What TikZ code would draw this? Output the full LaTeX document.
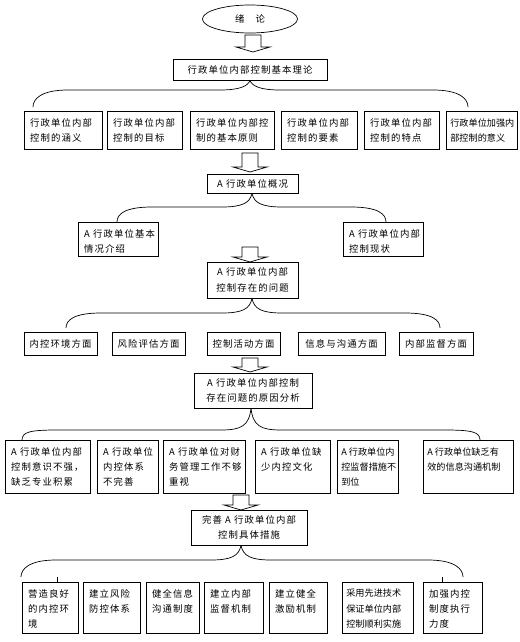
\documentclass[tikz,border=0pt]{standalone}
\usepackage{fontspec}
\newfontfamily\cjk[LetterSpace=12]{Noto Sans CJK SC}
\newfontfamily\cjkt{Noto Sans CJK SC}
\usetikzlibrary{positioning,calc}
\usetikzlibrary{shapes.geometric}
\tikzstyle{box}=[draw,line width=0.6pt,anchor=north west,inner sep=0pt]
\tikzstyle{midbox}=[draw,line width=0.6pt,align=center,inner sep=0pt,font=\cjk\fontsize{8}{13}\selectfont]
\tikzstyle{txt}=[anchor=north west,align=left,inner xsep=5pt,inner ysep=6pt,font=\cjk\fontsize{8}{13}\selectfont]
\tikzstyle{tighttxt}=[txt,inner xsep=3.5pt,font=\cjkt\fontsize{7.8}{13}\selectfont]
\tikzstyle{brace}=[draw,line width=0.6pt]
\tikzstyle{blockarrow}=[draw,line width=0.6pt,fill=white]

\begin{document}
\begin{tikzpicture}[x=0.03cm,y=-0.03cm]

  \def\u{0.03cm};
  \useasboundingbox (0,0) rectangle (519,642);

  \node[draw,ellipse,line width=0.6pt,minimum width=95*\u,minimum height=28*\u,inner sep=0pt,font=\cjk\fontsize{8}{13}\selectfont] (title) at (250,19) {绪\hspace{1.2em}论};

  % boxes with centred text
  \foreach \xa/\ya/\xb/\yb/\name/\txt in {173/59/327/80/B1/{行政单位内部控制基本理论},
      207/174/298/193/B2/{A 行政单位概况}, 207/262/298/298/B3/{A 行政单位内部\\控制存在的问题},
      194/373/312/408/B4/{A 行政单位内部控制\\存在问题的原因分析}, 191/510/307/545/B5/{完善 A 行政单位内部\\控制具体措施}}
          \node[midbox,minimum width={(\xb-\xa)*\u},minimum height={(\yb-\ya)*\u}] (\name) at ({(\xa+\xb)/2},{(\ya+\yb)/2}) {\txt};

  \foreach \xa/\xb/\name/\txt in {24/97/R3a/内控环境方面, 112/185/R3b/风险评估方面, 207/280/R3c/控制活动方面,
      298/385/R3d/信息与沟通方面, 399/473/R3e/内部监督方面}
          \node[midbox,minimum width={(\xb-\xa)*\u},minimum height=23*\u] (\name) at ({(\xa+\xb)/2},343.5) {\txt};

  % boxes with text at the top
  \foreach \xa/\xb/\name/\st/\txt in {24/102/R1a/txt/{行政单位内部\\控制的涵义}, 107/182/R1b/txt/{行政单位内部\\控制的目标},
      190/274/R1c/txt/{行政单位内部控\\制的基本原则}, 281/357/R1d/txt/{行政单位内部\\控制的要素},
      364/439/R1e/txt/{行政单位内部\\控制的特点}, 446/517/R1f/tighttxt/{行政单位加强内\\部控制的意义}}
  {
          \node[box,minimum width={(\xb-\xa)*\u},minimum height=38*\u] (\name) at (\xa,111) {};
          \node[\st] at (\name.north west) {\txt};
  }

  \foreach \xa/\xb/\name/\st/\txt in {78/158/R2a/txt/{A 行政单位基本\\情况介绍}, 343/423/R2b/txt/{A 行政单位内部\\控制现状}}
  {
          \node[box,minimum width={(\xb-\xa)*\u},minimum height=34*\u] (\name) at (\xa,222) {};
          \node[\st] at (\name.north west) {\txt};
  }

  \foreach \xa/\xb/\name/\st/\txt in {5/90/R4a/txt/{A 行政单位内部\\控制意识不强，\\缺乏专业积累}, 97/158/R4b/txt/{A 行政单位\\内控体系\\不完善},
      163/245/R4c/txt/{A 行政单位对财\\务管理工作不够\\重视}, 255/330/R4d/txt/{A 行政单位缺\\少内控文化},
      337/398/R4e/tighttxt/{A 行政单位内\\控监督措施不\\到位}, 423/513/R4f/tighttxt/{A 行政单位缺乏有\\效的信息沟通机制}}
  {
          \node[box,minimum width={(\xb-\xa)*\u},minimum height=53*\u] (\name) at (\xa,440) {};
          \node[\st] at (\name.north west) {\txt};
  }

  \foreach \xa/\xb/\name/\st/\txt in {22/78/R5a/txt/{营造良好\\的内控环\\境}, 83/140/R5b/txt/{建立风险\\防控体系}, 146/199/R5c/txt/{健全信息\\沟通制度},
      204/263/R5d/txt/{建立内部\\监督机制}, 269/327/R5e/txt/{建立健全\\激励机制}, 342/413/R5f/tighttxt/{采用先进技术\\保证单位内部\\控制顺利实施},
      423/482/R5g/txt/{加强内控\\制度执行\\力度}}
  {
          \node[box,minimum width={(\xb-\xa)*\u},minimum height=51*\u] (\name) at (\xa,582) {};
          \node[\st] at (\name.north west) {\txt};
  }

  % braces
  \foreach \parent/\ax/\yh/\xl/\xr/\ye in {B1/250/90/33/468/107, B2/252/207/117/386/222, B3/252/313/66/440/328,
      B4/251/430/22/480/440, B5/241/560/21/463/577}
  {
          \coordinate (\parent l) at (\xl,\ye);
          \coordinate (\parent r) at (\xr,\ye);
          \draw[brace] (\parent.south -| \ax,0) .. controls (\ax-2,\yh-4) and (\ax-10,\yh) .. (\ax-30,\yh) -- (\xl+35,\yh)
                .. controls (\xl+8,\yh) and (\xl,\ye-8) .. (\parent l);
          \draw[brace] (\parent.south -| \ax,0) .. controls (\ax+2,\yh-4) and (\ax+10,\yh) .. (\ax+30,\yh) -- (\xr-35,\yh)
                .. controls (\xr-8,\yh) and (\xr,\ye-8) .. (\parent r);
  }

  \draw[brace] ([xshift=7*\u]R5a.north) -- ++(0,-5);
  \draw[brace] ([xshift=-10.5*\u]R5g.north) -- ++(0,-5);

  % block arrows
  \foreach \cx/\ya/\yb in {253/35/52, 250/153/172, 250/247/262, 250/358/372, 241/495/510}
          \draw[blockarrow] (\cx-8,\ya) -- (\cx+8,\ya) -- (\cx+8,\yb-5) -- (\cx+17,\yb-5) -- (\cx,\yb)
                -- (\cx-17,\yb-5) -- (\cx-8,\yb-5) -- cycle;

\end{tikzpicture}
\end{document}
